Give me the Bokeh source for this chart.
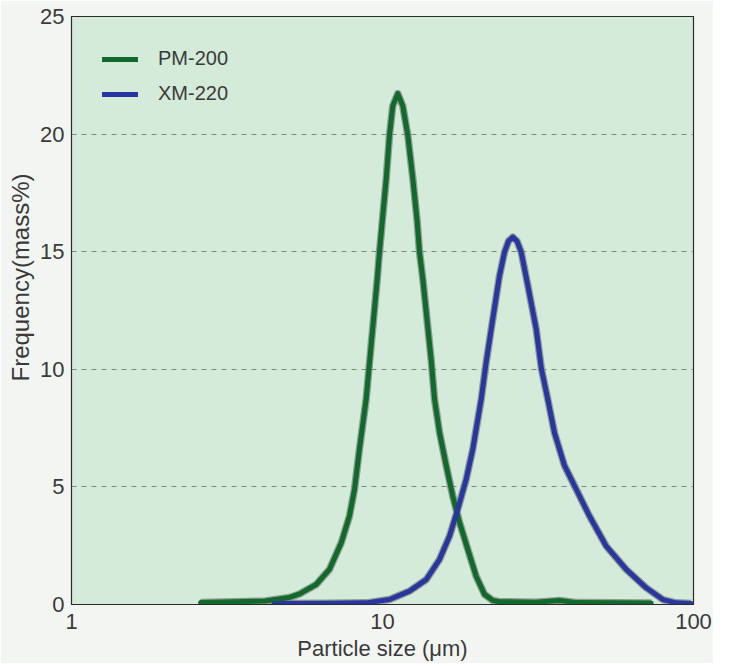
from bokeh.plotting import figure
from bokeh.models import FixedTicker, PrintfTickFormatter, Range1d, Legend, LegendItem, Title
from bokeh.embed import file_html
from bokeh.resources import INLINE

# PM-200 particle size distribution (size in um, frequency in mass%)
pm_size = [2.60, 4.20, 5.02, 5.41, 6.12, 6.75, 7.37, 7.83, 8.13, 8.43, 8.86, 9.62, 9.78, 9.98,
           10.28, 10.53, 10.79, 11.20, 11.62, 12.06, 12.52, 12.93, 13.15, 13.48, 14.34, 14.70,
           15.26, 16.03, 16.83, 17.68, 18.81, 20.01, 21.28, 22.63, 23.78, 30.99, 37.08, 42.36, 73.11]
pm_freq = [0.08, 0.15, 0.30, 0.45, 0.85, 1.49, 2.63, 3.76, 4.90, 6.60, 8.73, 13.84, 15.00, 16.27,
           18.10, 19.95, 21.20, 21.72, 21.20, 19.95, 18.10, 16.27, 15.00, 13.84, 10.40, 8.73,
           7.30, 5.90, 4.60, 3.50, 2.34, 1.20, 0.43, 0.17, 0.12, 0.10, 0.17, 0.08, 0.06]

# XM-220 particle size distribution
xm_size = [4.48, 6.53, 8.86, 10.53, 12.21, 13.82, 15.26, 16.43, 17.46, 18.58, 19.51, 20.77, 21.54,
           22.63, 23.78, 24.68, 25.42, 26.24, 27.07, 27.93, 29.33, 31.20, 32.45, 34.00, 35.73,
           38.48, 41.96, 46.30, 52.41, 60.77, 70.44, 79.67, 87.99, 98.3]
xm_freq = [0.04, 0.05, 0.07, 0.21, 0.57, 1.06, 1.92, 2.91, 4.05, 5.32, 6.60, 8.73, 10.29,
           12.14, 13.98, 14.98, 15.45, 15.62, 15.45, 14.98, 13.56, 11.71, 10.00, 8.73, 7.30,
           5.90, 4.90, 3.76, 2.48, 1.49, 0.71, 0.21, 0.07, 0.04]

x_ticks = [1, 10, 100]
y_ticks = [0, 5, 10, 15, 20, 25]
grid_ticks = [5, 10, 15, 20]

FONT = "Liberation Sans"
TXT = "#3a3a3a"

p = figure(x_axis_type="log", output_backend="svg", toolbar_location=None,
           frame_width=622, frame_height=588,
           min_border_left=0, min_border_right=20, min_border_top=16, min_border_bottom=50,
           x_range=Range1d(1, 100), y_range=Range1d(0, 25))

p.background_fill_color = "#d5ebd9"
p.border_fill_color = "#f3f5f3"
p.outline_line_color = "#2a2a2a"
p.outline_line_width = 1.2

p.xgrid.visible = False
p.ygrid.ticker = FixedTicker(ticks=grid_ticks)
p.ygrid.grid_line_color = "#7a8a80"
p.ygrid.grid_line_dash = "5 5"
p.ygrid.grid_line_width = 1

p.xaxis.ticker = FixedTicker(ticks=x_ticks)
p.xaxis.formatter = PrintfTickFormatter(format="%d")
p.yaxis.ticker = FixedTicker(ticks=y_ticks)

for ax in (p.xaxis[0], p.yaxis[0]):
    ax.major_tick_out = 0
    ax.major_tick_in = 0
    ax.minor_tick_out = 0
    ax.minor_tick_in = 0
    ax.axis_line_color = "#2a2a2a"
    ax.major_label_text_font = FONT
    ax.major_label_text_font_size = "22px"
    ax.major_label_text_color = TXT
    ax.axis_label_text_font = FONT
    ax.axis_label_text_font_style = "normal"
    ax.axis_label_text_color = TXT

p.xaxis.axis_label = "Particle size (μm)"
p.xaxis.axis_label_text_font_size = "22px"
p.xaxis.major_label_standoff = 9
p.xaxis.axis_label_standoff = 4
p.yaxis.major_label_standoff = 7

ytitle = Title(text="Frequency(mass%)", align="left", offset=223, standoff=8,
               text_font=FONT, text_font_size="24px", text_font_style="normal",
               text_color=TXT)
p.add_layout(ytitle, "left")

# soft grey shadows under the curves
p.line(pm_size, pm_freq, line_color="#7f8a82", line_width=7.5, line_alpha=0.8, line_join="round")
p.line(xm_size, xm_freq, line_color="#7f8a82", line_width=7.5, line_alpha=0.8, line_join="round")
g = p.line(pm_size, pm_freq, line_color="#106a2c", line_width=5, line_join="round", line_cap="round")
b = p.line(xm_size, xm_freq, line_color="#2a36a0", line_width=5, line_join="round", line_cap="round")

legend = Legend(items=[LegendItem(label="PM-200", renderers=[g]),
                       LegendItem(label="XM-220", renderers=[b])],
                location="top_left")
legend.margin = 0
legend.padding = 31
legend.background_fill_alpha = 0
legend.border_line_alpha = 0
legend.glyph_width = 36
legend.glyph_height = 20
legend.label_height = 20
legend.spacing = 12
legend.label_standoff = 20
legend.label_text_font = FONT
legend.label_text_font_size = "20px"
legend.label_text_color = TXT
p.add_layout(legend)

open("out.html", "w").write(file_html(p, INLINE))
